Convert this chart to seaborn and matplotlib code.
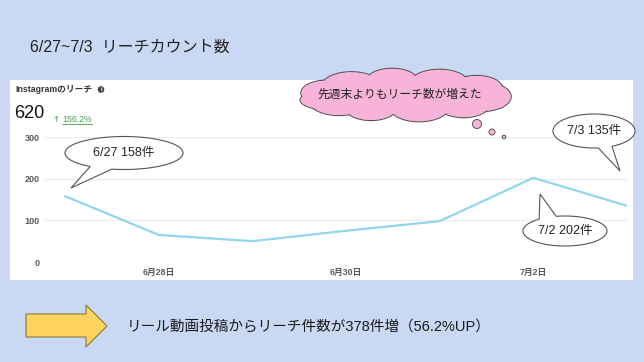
import numpy as np
import pandas as pd
import matplotlib
matplotlib.use("Agg")
import matplotlib.pyplot as plt
import seaborn as sns
from matplotlib.patches import Polygon, Circle, Rectangle, Ellipse

# ---------------- data ----------------
dates = ["6/27", "6/28", "6/29", "6/30", "7/1", "7/2", "7/3"]
reach = [158, 65, 50, 75, 98, 202, 135]
xtick_dates = ["6/28", "6/30", "7/2"]
xtick_labels = ["6月28日", "6月30日", "7月2日"]
yticks = [0, 100, 200, 300]

title = "6/27~7/3  リーチカウント数"
panel_title = "Instagramのリーチ"
total_value = "620"
change_arrow = "↑"
change_value = "156.2%"
cloud_text = "先週末よりもリーチ数が増えた"
callout_first = "6/27 158件"
callout_last = "7/3 135件"
callout_peak = "7/2 202件"
bottom_text = "リール動画投稿からリーチ件数が378件増（56.2%UP）"

# ---------------- style ----------------
sns.set_theme(style="white")
plt.rcParams['font.family'] = ['Liberation Sans', 'Noto Sans CJK JP', 'DejaVu Sans']

W, H = 644, 362
BG = "#c9d9f4"
fig = plt.figure(figsize=(W / 100, H / 100), dpi=100, facecolor=BG)


def rect(x0, y0, x1, y1):
    return [x0 / W, 1 - y1 / H, (x1 - x0) / W, (y1 - y0) / H]


# background overlay (pixel coords, y down)
bg = fig.add_axes([0, 0, 1, 1], zorder=0)
bg.set_xlim(0, W)
bg.set_ylim(H, 0)
bg.axis("off")
bg.add_patch(Rectangle((10, 80), 623, 200, facecolor="white", edgecolor="none"))

# ---------------- chart ----------------
df = pd.DataFrame({"date": dates, "reach": reach})
df["idx"] = np.arange(len(df))

ax = fig.add_axes(rect(45, 137, 627, 262), zorder=1)
ax.set_facecolor("none")
sns.lineplot(data=df, x="idx", y="reach", ax=ax, color="#93d5ef", linewidth=1.6)
ax.set_xlim(-0.2135, len(dates) - 1)
ax.set_ylim(0, 300)
ax.set_yticks(yticks)
ax.set_yticklabels([str(v) for v in yticks], fontsize=6.5, color="#5a5a5a", fontweight="bold")
ax.set_xticks([dates.index(d) for d in xtick_dates])
ax.set_xticklabels(xtick_labels, fontsize=6.3, color="#5a5a5a", fontweight="bold")
ax.tick_params(axis="both", length=0)
ax.tick_params(axis="y", pad=4)
ax.tick_params(axis="x", pad=4)
for v in yticks:
    ax.axhline(v, color="#ececec", lw=0.9, zorder=0)
for s in ax.spines.values():
    s.set_visible(False)
ax.set_xlabel("")
ax.set_ylabel("")

# ---------------- texts on background ----------------
bg.text(30, 47, title, fontsize=11.5, color="#222222", va="center", ha="left")
bg.text(15, 90, panel_title, fontsize=6.3, color="#333333", va="center", ha="left", fontweight="bold")
bg.add_patch(Circle((101, 89.5), 3.3, facecolor="#444444", edgecolor="none"))
bg.text(101, 89.8, "i", fontsize=4.2, color="white", va="center", ha="center", fontweight="bold")
bg.text(14, 113, total_value, fontsize=13, color="#111111", va="center", ha="left")
bg.text(52, 119, change_arrow, fontsize=6, color="#43a047", va="center", ha="left",
        family=['DejaVu Sans'])
bg.text(62, 119, change_value, fontsize=6.3, color="#43a047", va="center", ha="left")
bg.plot([62, 92], [123.5, 123.5], color="#43a047", lw=0.6)

# yellow arrow
arrow_pts = [(26, 314), (86, 314), (86, 305), (107, 326), (86, 347), (86, 337), (26, 337)]
bg.add_patch(Polygon(arrow_pts, closed=True, facecolor="#ffd45e", edgecolor="#8a7a3a", lw=0.8))
bg.text(127, 327, bottom_text, fontsize=10.5, color="#1a1a1a", va="center", ha="left")

# ---------------- foreground callouts ----------------
fg = fig.add_axes([0, 0, 1, 1], zorder=2)
fg.set_facecolor("none")
fg.set_xlim(0, W)
fg.set_ylim(H, 0)
fg.axis("off")


def bubble(cx, cy, w, h, tip, t1, t2, text, fs=9):
    ts = np.radians(np.linspace(t2, t1 + 360, 200))
    pts = [(cx + w / 2 * np.cos(t), cy + h / 2 * np.sin(t)) for t in ts]
    pts.append(tip)
    fg.add_patch(Polygon(pts, closed=True, facecolor="white", edgecolor="#555555", lw=0.8, zorder=3))
    fg.text(cx, cy, text, fontsize=fs, color="#222222", ha="center", va="center", zorder=4)


bubble(124, 153, 118, 33, (71, 188), 102, 125, callout_first)
bubble(594, 131, 82, 34, (620, 171), 64, 84, callout_last)
bubble(565, 231, 84, 30, (540, 194), 232, 258, callout_peak)

# cloud
PINK = "#f8b3d9"
EDGE = "#555555"
ccx, ccy = 406, 95
bumps = []
for k, t in enumerate(np.radians(np.arange(0, 360, 36) + 8)):
    rx, ry = (30, 15) if k % 2 == 0 else (26, 13)
    bx = ccx + (106 - rx) * np.cos(t)
    by = ccy + (27 - ry) * np.sin(t)
    bumps.append((bx, by, rx, ry))
# pointed left lobe
bumps.append((336, 100, 36, 11))
for bx, by, rx, ry in bumps:
    fg.add_patch(Ellipse((bx, by), 2 * rx, 2 * ry, facecolor=PINK, edgecolor=EDGE, lw=0.8, zorder=3))
for bx, by, rx, ry in bumps:
    fg.add_patch(Ellipse((bx, by), 2 * rx - 1.4, 2 * ry - 1.4, facecolor=PINK, edgecolor="none", zorder=4))
fg.add_patch(Ellipse((ccx, ccy), 170, 30, facecolor=PINK, edgecolor="none", zorder=4))
fg.text(ccx - 6, ccy, cloud_text, fontsize=8.5, color="#222222", ha="center", va="center", zorder=5)
for (bx, by, r) in [(477, 124, 4.5), (492, 132, 3.0), (504, 137, 1.8)]:
    fg.add_patch(Circle((bx, by), r, facecolor=PINK, edgecolor=EDGE, lw=0.7, zorder=3))

fig.savefig("out.png", dpi=100, facecolor=BG)
